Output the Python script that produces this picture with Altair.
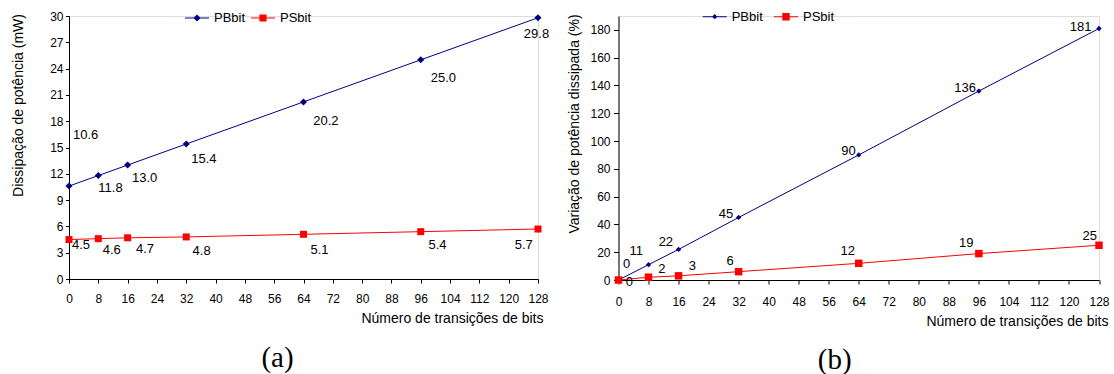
import altair as alt
import pandas as pd

# ---- data -------------------------------------------------------------
BITS = [0, 8, 16, 32, 64, 96, 128]
SERIES = ["PBbit", "PSbit"]

# (a) power dissipation in mW
PB_MW = [10.6, 11.8, 13.0, 15.4, 20.2, 25.0, 29.8]
PS_MW = [4.5, 4.6, 4.7, 4.8, 5.1, 5.4, 5.7]

# (b) variation of the dissipated power in %
PB_PCT = [0, 11, 22, 45, 90, 136, 181]
PS_PCT = [0, 2, 3, 6, 12, 19, 25]

X_TICKS = list(range(0, 129, 8))
Y_TICKS_MW = list(range(0, 31, 3))
Y_TICKS_PCT = list(range(0, 181, 20))

X_TITLE = "Número de transições de bits"
Y_TITLE_MW = "Dissipação de potência (mW)"
Y_TITLE_PCT = "Variação de potência dissipada (%)"

# pixel nudges (dx, dy) of every value label away from its point
NUDGE_PB_MW = [(16.7, -50.8), (12.2, 12), (17, 13.3), (17.7, 14.7), (22.4, 18.9), (22.7, 17.7), (-1.5, 16.3)]
NUDGE_PS_MW = [(12, 5.5), (13.4, 11), (17.4, 11.7), (15.4, 14), (16, 16), (16.7, 13.5), (-14.3, 16)]
NUDGE_PB_PCT = [(8.2, -16.2), (-12.2, -13.5), (-12.7, -7.4), (-12.7, -3.8), (-10.3, -4.3), (-13.8, -3.5), (-18.3, -1.2)]
NUDGE_PS_PCT = [(10.8, 1.7), (13.3, -8), (13.9, -9.5), (-8.6, -10.9), (-11, -12.6), (-12.7, -11.1), (-9.2, -9.5)]

NAVY = "#000080"
RED = "#FF0000"
SANS = "Arial, Liberation Sans"
SERIF = "Times New Roman, Liberation Serif"


def legend_path(marker, half):
    """Legend glyph: a thin horizontal bar with a marker in its middle."""
    t = 0.045
    bar = f"M-1,-{t}H1V{t}H-1Z"
    if marker == "diamond":
        m = f"M-{half},0L0,-{half}L{half},0L0,{half}Z"
    else:
        m = f"M-{half},-{half}H{half}V{half}H-{half}Z"
    return bar + m


def axis_style(**kw):
    return alt.Axis(
        grid=False,
        labelFont=SANS, labelFontSize=12, labelColor="black",
        titleFont=SANS, titleFontSize=14, titleFontWeight="normal", titleColor="black",
        domainColor="black", tickColor="black", domainWidth=1, tickWidth=1,
        labelFlush=False, labelOverlap=False,
        **kw,
    )


def panel(pb, ps, nudge_pb, nudge_ps, fmt, y_max, y_ticks, y_title,
          width, height, xaxis, yaxis, marks, legends, caption, caption_dx):
    df = pd.DataFrame({
        "bits": BITS * 2,
        "value": pb + ps,
        "series": ["PBbit"] * len(BITS) + ["PSbit"] * len(BITS),
    })
    df["label"] = [format(v, fmt) for v in df["value"]]

    x_enc = alt.X("bits:Q", scale=alt.Scale(domain=[0, 128], nice=False, zero=False),
                  axis=axis_style(values=X_TICKS, title=X_TITLE, **xaxis))
    y_enc = alt.Y("value:Q", scale=alt.Scale(domain=[0, y_max], nice=False),
                  axis=axis_style(values=y_ticks, title=y_title, titleAngle=270,
                                  titleAlign="center", titleBaseline="alphabetic", **yaxis))
    base = alt.Chart(df).encode(x=x_enc, y=y_enc)

    layers = []
    for name, color, nudges in [("PBbit", NAVY, nudge_pb), ("PSbit", RED, nudge_ps)]:
        shape, size = marks[name]
        sel = base.transform_filter(alt.datum.series == name)
        layers.append(sel.mark_line(color=color, strokeWidth=1))
        layers.append(sel.mark_point(shape=shape, filled=True, size=size, color=color,
                                     opacity=1, strokeWidth=0))
        for b, (dx, dy) in zip(BITS, nudges):
            one = base.transform_filter((alt.datum.series == name) & (alt.datum.bits == b))
            layers.append(one.mark_text(dx=dx, dy=dy, font=SANS, fontSize=13, color="black",
                                        align="center", baseline="middle").encode(text="label:N"))

    # one single-entry legend per series (line with marker)
    for name, color in [("PBbit", NAVY), ("PSbit", RED)]:
        path, lx, ly = legends[name]
        leg = alt.Chart(pd.DataFrame({"series": [name]})).mark_point(
            filled=True, color=color, opacity=0
        ).encode(
            shape=alt.Shape("series:N", scale=alt.Scale(domain=[name], range=[path]),
                            legend=alt.Legend(orient="none", legendX=lx, legendY=ly, title=None,
                                              symbolSize=576, symbolStrokeWidth=0, symbolOpacity=1,
                                              labelFont=SANS, labelFontSize=13, labelColor="black",
                                              labelOffset=5, padding=0))
        )
        layers.append(leg)

    return alt.layer(*layers).resolve_scale(shape="independent").resolve_legend(
        shape="independent"
    ).properties(
        width=width, height=height,
        title=alt.TitleParams(caption, orient="bottom", anchor="middle", frame="group",
                              font=SERIF, fontSize=29, fontWeight="normal", color="black",
                              dx=caption_dx, offset=18),
    )


chart_a = panel(
    PB_MW, PS_MW, NUDGE_PB_MW, NUDGE_PS_MW, ".1f", 30, Y_TICKS_MW, Y_TITLE_MW,
    width=469, height=263,
    xaxis=dict(tickSize=4, labelPadding=10, titleX=474, titleY=43.7,
               titleAlign="right", titleBaseline="alphabetic"),
    yaxis=dict(tickSize=3.5, labelPadding=2.5, titleX=-46.5, titleY=89),
    marks={"PBbit": ("diamond", 50), "PSbit": ("square", 49)},
    legends={"PBbit": (legend_path("diamond", 0.3), 116, -10),
             "PSbit": (legend_path("square", 0.3), 182, -10)},
    caption="(a)", caption_dx=-26,
)

chart_b = panel(
    PB_PCT, PS_PCT, NUDGE_PB_PCT, NUDGE_PS_PCT, "d", 190, Y_TICKS_PCT, Y_TITLE_PCT,
    width=480.5, height=264,
    xaxis=dict(tickSize=4, labelPadding=12, titleX=489.5, titleY=45,
               titleAlign="right", titleBaseline="alphabetic"),
    yaxis=dict(tickSize=5, labelPadding=3.5, titleX=-40.5, titleY=107.5),
    marks={"PBbit": ("diamond", 28), "PSbit": ("square", 56)},
    legends={"PBbit": (legend_path("diamond", 0.22), 84.2, -11.3),
             "PSbit": (legend_path("square", 0.31), 155.5, -11.3)},
    caption="(b)", caption_dx=-24,
)

chart = alt.hconcat(chart_a, chart_b, spacing=80.5, bounds="flush").properties(
    autosize=alt.AutoSizeParams(type="none"),
    padding={"left": 69, "top": 16, "right": 1045, "bottom": 358},
).configure_view(stroke=None).configure(background="white")

chart.save("out.html", embed_options={"renderer": "svg", "actions": False})
